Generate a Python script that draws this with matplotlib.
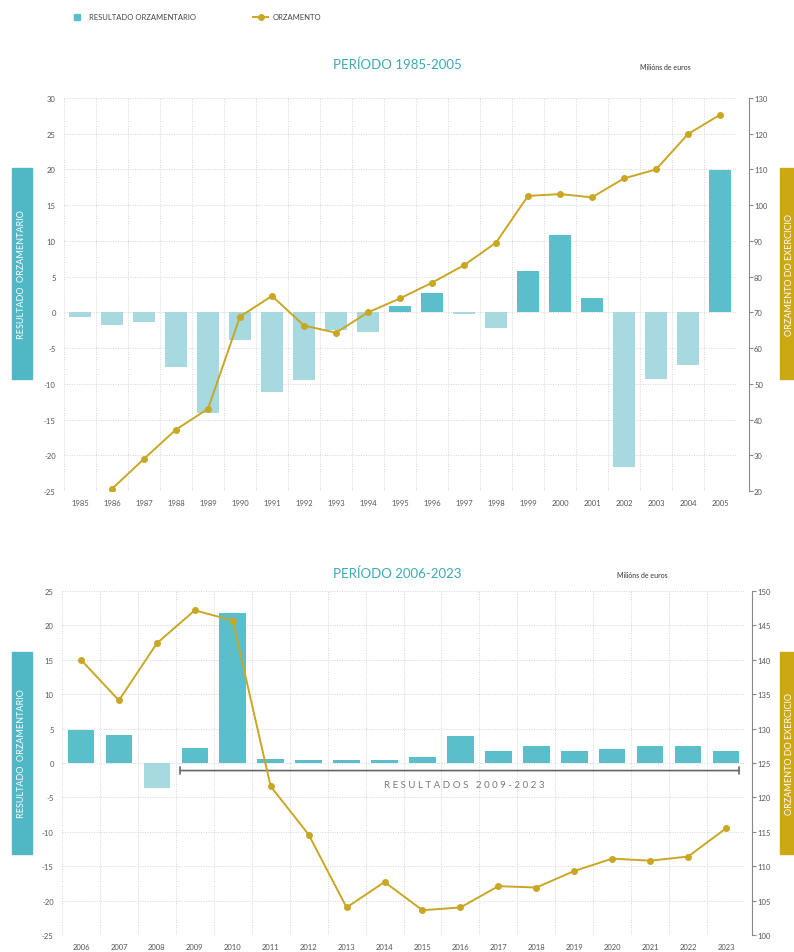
import matplotlib
matplotlib.use("Agg")
import matplotlib.pyplot as plt
from matplotlib.patches import Rectangle
from matplotlib.lines import Line2D

plt.rcParams['font.family'] = ['Lato', 'DejaVu Sans']
plt.rcParams['axes.unicode_minus'] = False

# datos (millóns de euros)
anos_1 = list(range(1985, 2006))
resultado_1 = [-0.7, -1.8, -1.4, -7.6, -14.1, -3.9, -11.1, -9.4, -2.5, -2.7, 0.9,
               2.7, -0.2, -2.2, 5.8, 10.8, 2.0, -21.6, -9.3, -7.4, 19.9]
orzamento_1 = [None, 20.6, 29.0, 37.2, 43.0, 68.8, 74.6, 66.3, 64.3, 70.0, 73.9,
               78.3, 83.2, 89.5, 102.6, 103.1, 102.2, 107.5, 110.0, 119.9, 125.3]

anos_2 = list(range(2006, 2024))
resultado_2 = [4.8, 4.0, -3.7, 2.2, 21.8, 0.6, 0.5, 0.5, 0.5, 0.9, 3.9, 1.7, 2.4,
               1.8, 2.0, 2.4, 2.4, 1.7]
orzamento_2 = [140.0, 134.1, 142.4, 147.2, 145.7, 121.6, 114.6, 104.0, 107.7, 103.6,
               104.0, 107.1, 106.9, 109.3, 111.1, 110.8, 111.4, 115.5]

W, H = 794, 953
TEAL = '#5bbfcb'
TEAL_L = '#a7d9e0'
GOLD = '#c9a724'
BOX_T = '#4fb8c4'
BOX_G = '#cda815'
TXT = '#555555'


def px(x, y, w, h):
    return [x / W, 1 - (y + h) / H, w / W, h / H]


def panel(rect, anos, res, orz, lylim, lstep, rylim, rstep, spine_off, titulo, tit_y, mil_x):
    ax = fig.add_axes(px(*rect))
    n = len(anos)
    xs = list(range(n))
    cores = [TEAL if v >= 0 else TEAL_L for v in res]
    ax.bar(xs, res, width=0.7, color=cores, zorder=2)
    ax.set_xlim(-0.5, n - 0.5)
    ax.set_ylim(*lylim)
    ax.set_yticks(range(lylim[0], lylim[1] + 1, lstep))
    ax.set_xticks(xs)
    ax.set_xticklabels([str(a) for a in anos])
    ax.tick_params(axis='both', length=0, labelsize=5.5, colors=TXT, pad=6)
    for s in ax.spines.values():
        s.set_visible(False)
    # grella punteada
    for i in range(n + 1):
        ax.axvline(i - 0.5, color='#d4d4d4', lw=0.7, ls=(0, (1, 1.5)), zorder=0)
    for v in range(lylim[0], lylim[1] + 1, lstep):
        ax.axhline(v, color='#d4d4d4', lw=0.7, ls=(0, (1, 1.5)), zorder=0)

    ax2 = ax.twinx()
    xl = [x for x, v in zip(xs, orz) if v is not None]
    yl = [v for v in orz if v is not None]
    ax2.plot(xl, yl, color=GOLD, lw=1.4, marker='o', ms=4, zorder=3)
    ax2.set_ylim(*rylim)
    ax2.set_yticks(range(rylim[0], rylim[1] + 1, rstep))
    for k, s in ax2.spines.items():
        s.set_visible(k == 'right')
    ax2.spines['right'].set_position(('outward', spine_off))
    ax2.spines['right'].set_color('#888888')
    ax2.spines['right'].set_linewidth(0.8)
    ax2.tick_params(axis='y', length=3, width=0.8, color='#888888', labelsize=5.5,
                    labelcolor=TXT, pad=1)

    fig.text(397 / W, 1 - tit_y / H, titulo, color='#3aa9b8', fontsize=9.5,
             ha='center', va='center')
    fig.text(mil_x / W, 1 - (tit_y + 2) / H, 'Milións de euros', color='#333333',
             fontsize=5, ha='left', va='center')
    return ax, ax2


fig = plt.figure(figsize=(W / 100, H / 100), dpi=100)

ax_a, ax_a2 = panel((64, 99, 672, 393), anos_1, resultado_1, orzamento_1,
                    (-25, 30), 5, (20, 130), 10, 9, 'PERÍODO 1985-2005', 65, 640)
ax_b, ax_b2 = panel((62, 592, 683, 344), anos_2, resultado_2, orzamento_2,
                    (-25, 25), 5, (100, 150), 5, 5, 'PERÍODO 2006-2023', 574, 617)

# caixas laterais
for (y0, y1) in [(169, 380), (653, 855)]:
    fig.patches.append(Rectangle((12 / W, 1 - y1 / H), 20 / W, (y1 - y0) / H,
                                 transform=fig.transFigure, color=BOX_T, zorder=0))
    fig.text(22 / W, 1 - (y0 + y1) / 2 / H, 'RESULTADO  ORZAMENTARIO', rotation=90,
             color='white', fontsize=6.5, ha='center', va='center')
    fig.patches.append(Rectangle((780 / W, 1 - y1 / H), 20 / W, (y1 - y0) / H,
                                 transform=fig.transFigure, color=BOX_G, zorder=0))
    fig.text(790 / W, 1 - (y0 + y1) / 2 / H, 'ORZAMENTO DO EXERCICIO', rotation=90,
             color='white', fontsize=6.5, ha='center', va='center')

# anotación resultados 2009-2023
ax_b.annotate('', xy=(2.62, -1.1), xytext=(17.35, -1.1),
              arrowprops=dict(arrowstyle='|-|', color='#666666', lw=1.2,
                              mutation_scale=2.5, shrinkA=0, shrinkB=0), zorder=4)
ax_b.text(10.1, -3.1, 'R E S U L T A D O S   2 0 0 9 - 2 0 2 3', color='#777777',
          fontsize=7, ha='center', va='center', zorder=4)

# lenda
handles = [Line2D([], [], marker='s', ls='none', color=TEAL, ms=4),
           Line2D([], [], marker='o', color=GOLD, lw=1.4, ms=4)]
fig.legend(handles, ['RESULTADO ORZAMENTARIO', 'ORZAMENTO'], loc='center left',
           bbox_to_anchor=(62 / W, 1 - 18 / H), ncol=2, frameon=False, fontsize=5.5,
           handlelength=2.0, columnspacing=7.5, handletextpad=0.6, labelcolor='#444444')

fig.savefig('out.png', dpi=100)
